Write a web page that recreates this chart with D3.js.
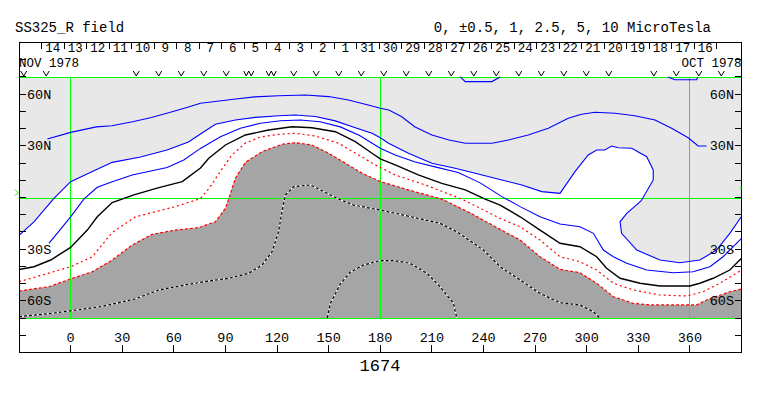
<!DOCTYPE html>
<html>
<head>
<meta charset="utf-8">
<script src="https://cdn.jsdelivr.net/npm/d3@7"></script>
<style>
  body { margin: 0; background: #fff; }
  svg text { font-family: "Liberation Mono", monospace; fill: #000; }
</style>
</head>
<body>
<svg id="chart" width="763" height="396"></svg>
<script>
// carrington rotation 1674, source surface field
const rotation = '1674';
const titleLeft = 'SS325_R field';
const titleRight = '0, \u00b10.5, 1, 2.5, 5, 10 MicroTesla';

const lonTicks = [0, 30, 60, 90, 120, 150, 180, 210, 240, 270, 300, 330, 360];
const latTicks = d3.range(-80, 81, 10);
const latLabelValues = [60, 30, -30, -60];
const latLabelText = ['60N', '30N', '30S', '60S'];
const gridLons = [0, 180, 360];
const gridLats = [70, 0, -70];

// rotation timing
const rotStart = Date.UTC(1978, 9, 17, 4, 30);
const rotDays = 27.52;
const firstDay = new Date(Date.UTC(1978, 9, 16));
const lastDay = new Date(Date.UTC(1978, 10, 15));

// observation days (W = two observations)
const obsDates = ['1978-10-15', '1978-10-16', '1978-10-17', '1978-10-18', '1978-10-20',
  '1978-10-21', '1978-10-22', '1978-10-23', '1978-10-24', '1978-10-25', '1978-10-26',
  '1978-10-27', '1978-10-28', '1978-10-29', '1978-10-30', '1978-10-31', '1978-11-01',
  '1978-11-02', '1978-11-03', '1978-11-04', '1978-11-05', '1978-11-06', '1978-11-07',
  '1978-11-08', '1978-11-09', '1978-11-10', '1978-11-14', '1978-11-15'];
const obsDouble = ['1978-11-04', '1978-11-05'];

// sub-earth latitude markers at each end
const b0Left = 2.8;
const b0Right = 5.6;

// contours as [longitude, latitude]
const pos4a = [[226.5, 70], [229.4, 67.3], [244.9, 67.3], [249.7, 70]];
const pos4b = [[347.2, 70], [351.3, 68.4], [363.9, 68.4], [364.6, 70]];

const pos3 = [[-13.5, 34], [0, 37.8], [15, 41], [24, 41.7], [36, 44], [47, 46.4], [59, 49.8],
  [69, 52.7], [75.5, 54.7], [84, 55.7], [96, 57.2], [107, 58.4], [121, 59.1], [136.5, 59.5],
  [150, 58.6], [161.5, 56.6], [173, 53.7], [180, 51.8], [185, 50.8], [192.5, 46.9],
  [200, 41.1], [210, 36.3], [220, 33.4], [229.5, 31.5], [245, 31.5], [254.5, 33.4],
  [266, 36.3], [277.7, 40.2], [289.3, 46], [297, 48.3], [305, 49.5], [316.5, 48.9],
  [328, 47.5], [339.7, 45], [349.4, 40.2], [359, 34.7], [364.8, 29.9], [369.7, 29.9]];

const pos2 = [[-30, -22], [-21.3, -14.1], [-9.7, -0.5], [0, 9.2], [14.5, 16], [24.2, 20.4],
  [40.6, 23.5], [56, 27.6], [68.5, 32.2], [75.5, 36.9], [84.2, 42.5], [95.8, 45],
  [107.4, 46.5], [121, 47.5], [130.6, 47.9], [142.3, 47], [153.9, 44.5], [165.5, 40.5],
  [175.2, 37.3], [180, 34.7], [184.8, 31.5], [196.4, 25.7], [210, 19.9], [223.5, 17],
  [235.2, 14.1], [250.7, 10.2], [262.3, 7.3], [273.9, 3.4], [284.5, 2.4], [293.2, 15],
  [300.9, 24.7], [305.8, 27.6], [310.6, 27.6], [314.5, 29.9], [318.4, 28.9], [326.2, 28.6],
  [334.9, 23.7], [338.7, 16], [338.7, 10.2], [331.6, -2], [323.3, -9.2], [319.4, -14.1],
  [320.3, -20.8], [329.1, -30.5], [342.6, -36.3], [354.2, -37.9], [365.8, -36.3],
  [375.5, -30.5], [383.2, -20.8], [390, -11]];

const pos1 = [[-12.6, -26.6], [0, -11.2], [7.7, -0.9], [15.5, 5.9], [24.2, 9.2], [35.8, 13.1],
  [56.1, 17.4], [65.8, 21.8], [75.5, 28.5], [87.1, 35.3], [98.7, 40.2], [110.3, 43.1],
  [122, 44.6], [133.6, 45], [145, 44], [156.8, 41], [168, 36], [180, 28.6], [188.7, 24.7],
  [200.3, 20.6], [211.9, 17.8], [225.3, 14.5], [238.1, 8.5], [250.7, 0.5], [261.3, -5.3],
  [272.9, -11.2], [284.5, -15.4], [296.1, -17], [303.9, -20.8], [309.7, -30.5],
  [315.5, -34.4], [323.3, -38.2], [334.9, -42.1], [350.3, -43.7], [361.9, -43.1],
  [371.6, -40.2], [379.3, -34.4], [390, -23.7]];

const neutral = [[-30, -41.8], [-21.3, -40.2], [-11.6, -36.3], [0, -29], [9.7, -18.9],
  [15.5, -11.2], [24.2, -2.9], [36.8, 1.5], [51.3, 5.7], [64.9, 9.2], [75.5, 17.1],
  [80.3, 22.8], [90, 30.5], [101.6, 36.3], [115.1, 39.2], [128.7, 41.1], [140.3, 40.5],
  [153.9, 38.2], [165.5, 32.4], [175.2, 25.7], [180, 22.4], [188.7, 18.9], [202.1, 13.1],
  [215.8, 8.2], [229.4, 4.4], [241, -0.9], [249.7, -4.4], [261.3, -11.2], [272.9, -18.9],
  [284.5, -26.6], [296.1, -28.6], [305.8, -34.4], [311.6, -41.1], [319.4, -46.9],
  [331, -49.8], [342.6, -51.4], [360, -51.4], [365.8, -49.8], [373.5, -46.9],
  [383.2, -42.1], [390, -35.3]];

const neg1 = [[-30, -48.9], [-16.4, -45], [0, -40.2], [12.6, -34.4], [24.2, -20.3],
  [37.7, -11.2], [49.4, -8.2], [61, -5.3], [75.5, -0.6], [81, 6], [86.8, 14.8], [93.8, 24.7],
  [101.6, 31.6], [110.3, 35.1], [121, 36.7], [130.6, 37.3], [142.3, 35.7], [155.8, 31.5],
  [167.4, 24.7], [177.1, 18.9], [188.7, 13.1], [206.1, 7.3], [227.4, -0.9], [249.7, -12.1],
  [261.3, -17], [272.9, -24.7], [284.5, -34.4], [296.1, -37.3], [305.8, -42.1],
  [315.5, -49.8], [327.1, -53.7], [342.6, -56.6], [358.1, -57.2], [367.7, -54.7],
  [377.4, -49.8], [390, -42.1]];

const neg2 = [[-30, -54.3], [-12.6, -51.8], [0, -47.3], [12.6, -43.1], [24.2, -36.3],
  [35.8, -27.6], [47.4, -21.4], [61, -18.9], [74.3, -17.5], [84.2, -14.1], [90, -6.3],
  [91.9, -0.9], [95.8, 11.2], [101.6, 20.4], [111.3, 26.6], [122.9, 30.9], [130.6, 31.8],
  [140.3, 30.5], [150, 25.7], [159.7, 19.9], [169.4, 14.1], [180, 9.3], [196.4, 4.4],
  [215.8, -0.9], [232.3, -9], [249.7, -18.5], [261.3, -24.7], [272.9, -34.4],
  [284.5, -41.7], [296.1, -43.7], [305.8, -49.8], [315.5, -57.6], [327.1, -61.5],
  [336.8, -62.4], [363.9, -62.4], [369.7, -59.5], [383.2, -54.7], [390, -53.2]];

const neg3 = [[-30, -69.2], [-11.6, -67.3], [0, -65.8], [17.4, -63.4], [36.8, -59.1],
  [51.3, -53.7], [68.7, -50.4], [80.3, -48.5], [91.9, -46.9], [103.5, -44], [111.3, -39.2],
  [117.1, -31.5], [120.9, -19.9], [122.5, -10.2], [124.8, 1.5], [129.7, 6.3], [139.4, 7.3],
  [154.9, -0.5], [164.5, -4.4], [180, -7.3], [193.5, -10.2], [214.8, -15], [224.5, -19.9],
  [240, -30.5], [249.7, -40.2], [261.3, -47.9], [272.9, -55.7], [284.5, -61.1],
  [296.1, -62.4], [303.9, -66.3], [307.7, -70]];

const neg4 = [[149.2, -70], [151, -61.5], [156.8, -50.2], [162.6, -43.3], [170.3, -39.2],
  [180, -36.6], [187.7, -36.6], [197.4, -38.2], [207.1, -44], [214.8, -51.8],
  [222.6, -61.5], [224.5, -70]];

const svg = d3.select('#chart');

const x = d3.scaleLinear().domain([-30, 390]).range([19, 741.5]);
const y = d3.scaleLinear().domain([-90, 90]).range([352.5, 42.5]);
const t = d3.scaleUtc().domain([rotStart, rotStart + rotDays * 864e5]).range([360, 0]);
const line = d3.line().x(d => x(d[0])).y(d => y(d[1]));
const col = v => Math.floor(v) + 0.5;
const row = v => Math.floor(v + 0.5) + 0.5;

// fills
const plot = svg.append('g');
plot.append('rect')
  .attr('x', x(-30))
  .attr('y', y(70))
  .attr('width', x(390) - x(-30))
  .attr('height', y(-70) - y(70))
  .attr('fill', '#e8e8e8');
plot.append('path')
  .attr('d', line(pos2.concat(neg2.slice().reverse())) + 'Z')
  .attr('fill', '#fff');
plot.append('path')
  .attr('d', line(neg2.concat([[390, -70], [-30, -70]])) + 'Z')
  .attr('fill', '#a5a5a5');

// green grid
const grid = svg.append('g')
  .attr('stroke', '#00ff00')
  .attr('stroke-width', 1);
grid.selectAll('.vg')
  .data(gridLons)
  .enter()
  .append('line')
  .attr('class', 'vg')
  .attr('x1', d => col(x(d)))
  .attr('x2', d => col(x(d)))
  .attr('y1', y(70))
  .attr('y2', y(-70));
grid.selectAll('.hg')
  .data(gridLats)
  .enter()
  .append('line')
  .attr('class', 'hg')
  .attr('x1', x(-30))
  .attr('x2', x(390))
  .attr('y1', d => row(y(d)))
  .attr('y2', d => row(y(d)));

// contours
const contours = svg.append('g')
  .attr('fill', 'none');

[pos3, pos2, pos1, pos4a, pos4b].forEach((c) => {
  contours.append('path')
    .attr('d', line(c))
    .attr('stroke', '#0000ff')
    .attr('stroke-width', 1.1);
});

contours.append('path')
  .attr('d', line(neutral))
  .attr('stroke', '#000')
  .attr('stroke-width', 1.4);

contours.append('path')
  .attr('d', line(neg1))
  .attr('stroke', '#ff0000')
  .attr('stroke-width', 1.2)
  .attr('stroke-dasharray', '2,3');

contours.append('path')
  .attr('d', line(neg2))
  .attr('stroke', '#ff0000')
  .attr('stroke-width', 1.2)
  .attr('stroke-dasharray', '3,2');

[neg3, neg4].forEach((c) => {
  contours.append('path')
    .attr('d', line(c))
    .attr('stroke', '#fff')
    .attr('stroke-width', 1.2);
  contours.append('path')
    .attr('d', line(c))
    .attr('stroke', '#000')
    .attr('stroke-width', 1.2)
    .attr('stroke-dasharray', '3,2');
});

// frame
svg.append('rect')
  .attr('x', x(-30))
  .attr('y', y(90))
  .attr('width', x(390) - x(-30))
  .attr('height', y(-90) - y(90))
  .attr('fill', 'none')
  .attr('stroke', '#000')
  .attr('shape-rendering', 'crispEdges');

// latitude ticks and labels
const axes = svg.append('g')
  .attr('stroke', '#000')
  .attr('shape-rendering', 'crispEdges');
axes.selectAll('.lt')
  .data(latTicks)
  .enter()
  .append('line')
  .attr('class', 'lt')
  .attr('x1', x(-30))
  .attr('x2', x(-30) + 7)
  .attr('y1', d => y(d))
  .attr('y2', d => y(d));
axes.selectAll('.rt')
  .data(latTicks)
  .enter()
  .append('line')
  .attr('class', 'rt')
  .attr('x1', x(390) - 7)
  .attr('x2', x(390))
  .attr('y1', d => y(d))
  .attr('y2', d => y(d));

svg.selectAll('.ll')
  .data(latLabelValues)
  .enter()
  .append('text')
  .attr('class', 'll')
  .attr('x', x(-30) + 8)
  .attr('y', d => y(d) + 4.5)
  .style('font-size', '13.5px')
  .text((d, i) => latLabelText[i]);
svg.selectAll('.rl')
  .data(latLabelValues)
  .enter()
  .append('text')
  .attr('class', 'rl')
  .attr('x', x(390) - 7.5)
  .attr('y', d => y(d) + 4.5)
  .style('font-size', '13.5px')
  .style('text-anchor', 'end')
  .text((d, i) => latLabelText[i]);

// sub-earth latitude marks
svg.append('path')
  .attr('d', `M${x(-30) - 4},${y(b0Left) - 3}L${x(-30) - 1},${y(b0Left)}L${x(-30) - 4},${y(b0Left) + 3}`)
  .attr('fill', 'none')
  .attr('stroke', '#00ff00');
svg.append('line')
  .attr('x1', x(390) - 2)
  .attr('x2', x(390) + 1)
  .attr('y1', y(b0Right))
  .attr('y2', y(b0Right))
  .attr('stroke', '#00ff00');

// longitude ticks and labels
axes.selectAll('.bt')
  .data(lonTicks)
  .enter()
  .append('line')
  .attr('class', 'bt')
  .attr('x1', d => x(d))
  .attr('x2', d => x(d))
  .attr('y1', y(-90) - 8)
  .attr('y2', y(-90));
svg.selectAll('.bl')
  .data(lonTicks)
  .enter()
  .append('text')
  .attr('class', 'bl')
  .attr('x', d => x(d))
  .attr('y', 341.5)
  .style('font-size', '13.5px')
  .style('text-anchor', 'middle')
  .text(d => d);

// day ticks along the top
const days = d3.utcDay.range(firstDay, d3.utcDay.offset(lastDay, 1));
axes.selectAll('.dt')
  .data(days)
  .enter()
  .append('line')
  .attr('class', 'dt')
  .attr('x1', d => x(t(d)))
  .attr('x2', d => x(t(d)))
  .attr('y1', y(90))
  .attr('y2', y(90) + 6);
svg.selectAll('.dl')
  .data(days.slice(0, -1))
  .enter()
  .append('text')
  .attr('class', 'dl')
  .attr('x', d => x(t(d3.utcHour.offset(d, 12))))
  .attr('y', 52)
  .style('font-size', '12.5px')
  .style('text-anchor', 'middle')
  .text(d3.utcFormat('%-d'));

svg.append('text')
  .attr('x', x(-30))
  .attr('y', 66.5)
  .style('font-size', '12.5px')
  .text(d3.utcFormat('%b %Y')(lastDay).toUpperCase());
svg.append('text')
  .attr('x', x(390))
  .attr('y', 66.5)
  .style('font-size', '12.5px')
  .style('text-anchor', 'end')
  .text(d3.utcFormat('%b %Y')(firstDay).toUpperCase());

// observation marks
const parseDay = d3.utcParse('%Y-%m-%d');
svg.append('g')
  .attr('fill', 'none')
  .attr('stroke', '#000')
  .selectAll('path')
  .data(obsDates)
  .enter()
  .append('path')
  .attr('d', (d) => {
    const ox = x(t(d3.utcHour.offset(parseDay(d), 19)));
    if (obsDouble.includes(d)) {
      return `M${ox - 5},71L${ox - 2.5},76L${ox},71L${ox + 2.5},76L${ox + 5},71`;
    }
    return `M${ox - 3},71L${ox},76L${ox + 3},71`;
  });

// titles
svg.append('text')
  .attr('x', 15)
  .attr('y', 31.5)
  .style('font-size', '14px')
  .text(titleLeft);
svg.append('text')
  .attr('x', 711)
  .attr('y', 31.5)
  .style('font-size', '14px')
  .style('text-anchor', 'end')
  .text(titleRight);
svg.append('text')
  .attr('x', 380)
  .attr('y', 371)
  .style('font-size', '17px')
  .style('text-anchor', 'middle')
  .text(rotation);
</script>
</body>
</html>
